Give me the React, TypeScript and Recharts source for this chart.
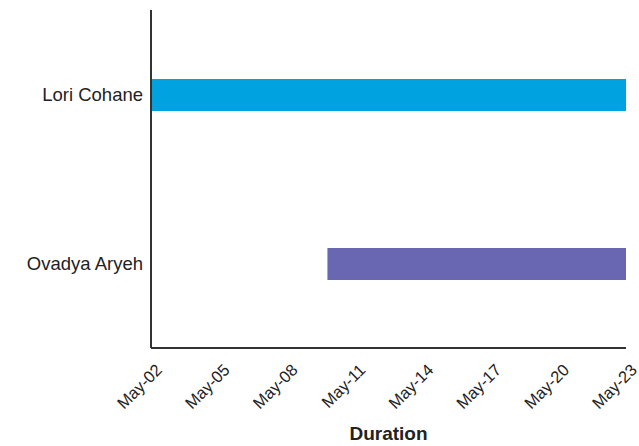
import React from "react";
import { BarChart, Bar, XAxis, YAxis, Cell, Label } from "recharts";

const people = ["Lori Cohane", "Ovadya Aryeh"];
const startDays = [2, 9.8];
const endDays = [23, 23];
const barColors = ["#00A3E0", "#6967B1"];
const dayTicks = [2, 5, 8, 11, 14, 17, 20, 23];

const data = people.map((name, i) => ({
  name,
  span: [startDays[i], endDays[i]],
}));

const fmtDay = (d: number) => `May-${String(d).padStart(2, "0")}`;
const font = "Liberation Sans, Arial, sans-serif";

function DateTick(props: any) {
  const { x, y, payload } = props;
  return (
    <g transform={`translate(${x + 12},${y + 15})`}>
      <text transform="rotate(-45)" textAnchor="end" fontSize={16.5} fill="#222" fontFamily={font}>
        {fmtDay(payload.value)}
      </text>
    </g>
  );
}

export default function App() {
  return (
    <div style={{ position: "absolute", left: 0, top: 0 }}>
      <BarChart
        width={639}
        height={446}
        data={data}
        layout="vertical"
        margin={{ top: 10, right: 13, bottom: 0, left: 8 }}
        style={{ fontFamily: font }}
      >
        <XAxis
          type="number"
          domain={[2, 23]}
          ticks={dayTicks}
          interval={0}
          tickLine={false}
          axisLine={{ stroke: "#333", strokeWidth: 2 }}
          height={98}
          tick={<DateTick />}
        >
          <Label
            value="Duration"
            position="insideBottom"
            offset={6}
            style={{ fontSize: 19, fontWeight: "bold", fill: "#222" }}
          />
        </XAxis>
        <YAxis
          type="category"
          dataKey="name"
          width={143}
          tickLine={false}
          axisLine={{ stroke: "#333", strokeWidth: 2 }}
          tick={{ fontSize: 18.5, fill: "#222" }}
          tickMargin={2}
        />
        <Bar dataKey="span" barSize={32} isAnimationActive={false}>
          {data.map((d, i) => (
            <Cell key={d.name} fill={barColors[i]} />
          ))}
        </Bar>
      </BarChart>
    </div>
  );
}
